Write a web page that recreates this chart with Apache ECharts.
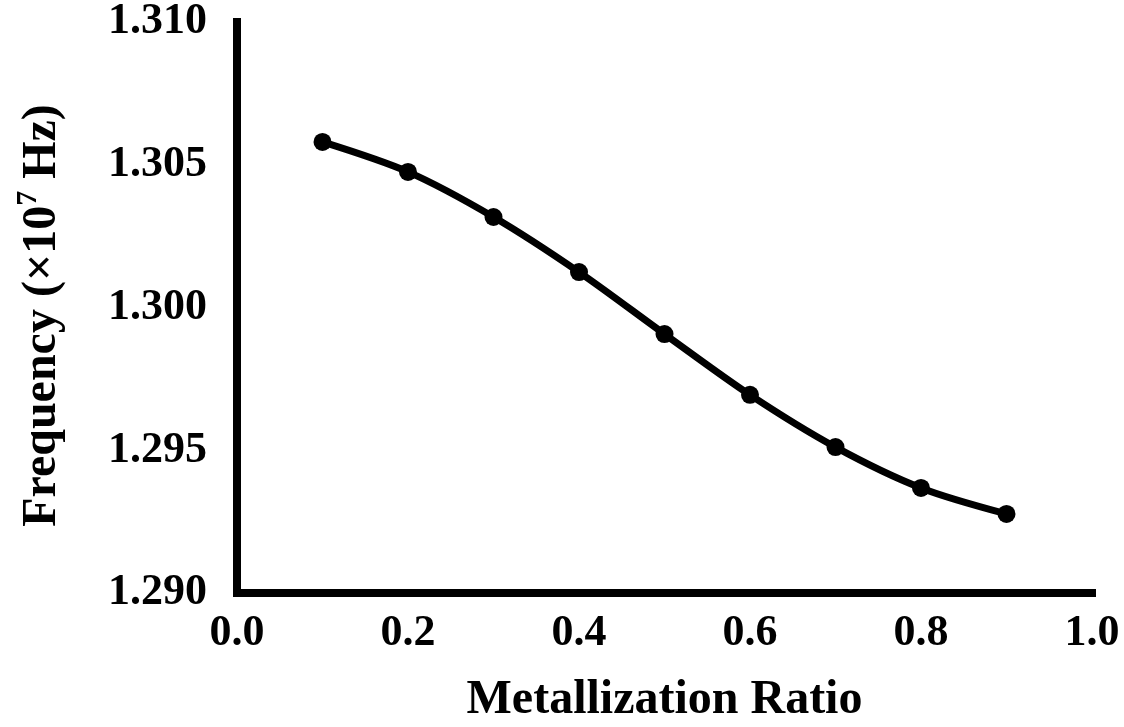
<!DOCTYPE html>
<html>
<head>
<meta charset="utf-8">
<script src="https://cdn.jsdelivr.net/npm/echarts@6/dist/echarts.min.js"></script>
<style>
html,body{margin:0;padding:0;background:#fff;}
#chart{width:1124px;height:727px;}
</style>
</head>
<body>
<div id="chart"></div>
<script>
const ratios = [0.1, 0.2, 0.3, 0.4, 0.5, 0.6, 0.7, 0.8, 0.9];
const frequency = [1.3058, 1.30475, 1.30317, 1.30124, 1.29907, 1.29694, 1.29511, 1.29368, 1.29277];
const xTicks = [0.0, 0.2, 0.4, 0.6, 0.8, 1.0];
const yTicks = [1.290, 1.295, 1.300, 1.305, 1.310];

const font = '"Liberation Serif", "Times New Roman", serif';
const chart = echarts.init(document.getElementById('chart'));
const axisLine = {show: true, lineStyle: {color: '#000', width: 8, cap: 'square'}};
const axisTick = {show: true, inside: false, length: 4, lineStyle: {color: '#000', width: 8}};
chart.setOption({
  animation: false,
  backgroundColor: '#fff',
  grid: {left: 237, right: 32, top: 22, bottom: 134, containLabel: false, outerBoundsMode: 'none'},
  xAxis: {
    type: 'value',
    min: xTicks[0], max: xTicks[xTicks.length - 1], interval: 0.2,
    axisLine: axisLine, axisTick: axisTick,
    splitLine: {show: false},
    axisLabel: {color: '#000', fontFamily: font, fontWeight: 'bold', fontSize: 44, margin: 19,
      formatter: v => v.toFixed(1)},
    name: 'Metallization Ratio',
    nameLocation: 'middle', nameGap: 84,
    nameTextStyle: {color: '#000', fontFamily: font, fontWeight: 'bold', fontSize: 48}
  },
  yAxis: {
    type: 'value',
    min: yTicks[0], max: yTicks[yTicks.length - 1], interval: 0.005,
    axisLine: axisLine, axisTick: axisTick,
    splitLine: {show: false},
    axisLabel: {color: '#000', fontFamily: font, fontWeight: 'bold', fontSize: 44, margin: 30,
      formatter: v => v.toFixed(3)},
    name: '{a|Frequency (×10}{s|7}{a| Hz)}',
    nameLocation: 'middle', nameGap: 170, nameRotate: 90,
    nameTextStyle: {
      color: '#000', fontFamily: font, fontWeight: 'bold', fontSize: 48,
      padding: [0, 16, 0, 0],
      rich: {
        a: {color: '#000', fontFamily: font, fontWeight: 'bold', fontSize: 48, lineHeight: 54, verticalAlign: 'bottom'},
        s: {color: '#000', fontFamily: font, fontWeight: 'bold', fontSize: 30, lineHeight: 54, verticalAlign: 'top', padding: [0, 0, 16, 0]}
      }
    }
  },
  series: [{
    type: 'line',
    data: ratios.map((r, i) => [r, frequency[i]]),
    smooth: 0.3,
    symbol: 'circle',
    symbolSize: 18,
    lineStyle: {color: '#000', width: 7},
    itemStyle: {color: '#000'}
  }]
});
</script>
</body>
</html>
